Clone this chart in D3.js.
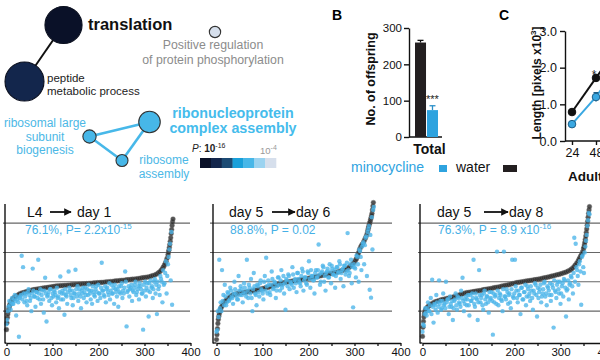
<!DOCTYPE html>
<html><head><meta charset="utf-8">
<script src="https://cdn.jsdelivr.net/npm/d3@7"></script>
<style>body{margin:0;background:#fff}svg{display:block;font-family:"Liberation Sans",Arial,sans-serif}</style>
</head><body><svg id="c" width="600" height="360"></svg>
<script>
// ---------------- DATA ----------------
// A: GO network
const pBinColors = ["#0a1128","#13264c","#1c4b74","#19a0da","#47b7e8","#9bd3f0","#d6dfec"];
const pLegendLabels = ["10", "-16", "10", "-4"];
const nodeIds = ["translation","peptide","posreg","rnp","rlsb","rasm"];
const nodeLabels = [["translation"],["peptide","metabolic process"],["Positive regulation","of protein phosphorylation"],["ribonucleoprotein","complex assembly"],["ribosomal large","subunit","biogenesis"],["ribosome","assembly"]];
const nodeBins = [0,1,6,4,4,4];
const nodeCounts = [86,95,8,29,11,9];
const edges = [["translation","peptide"],["rnp","rlsb"],["rnp","rasm"],["rlsb","rasm"]];
// B: offspring
const offCats = ["Total"];
const offSeries = ["water","minocycline"];
const offMean = [260,74];
const offErr = [6,12];
const offTicks = [0,100,200,300];
const offSig = "***";
// C: length
const lenHours = [24,48,72];
const lenWater = [0.79,1.72,2.65];
const lenWaterErr = [0.04,0.08,0.1];
const lenMino = [0.46,1.2,2.15];
const lenMinoErr = [0.04,0.12,0.1];
const lenTicksY = [0,1,2,3];
const lenTicksX = [24,48];
// D: rank plots  [rank, value] for black (reference); blue values every BLUE_STEP ranks (two interleaved sets)
const scatterTicks = [0,50,100,150,200,250,300,350,400];
const scatterGrid = [1,2,3,4];
const BLUE_STEP = 3;
const titles = [["L4","day 1"],["day 5","day 6"],["day 5","day 8"]];
const subs = [["76.1%, P= 2.2x10","-15"],["88.8%, P = 0.02",""],["76.3%, P = 8.9 x10","-16"]];
const black1 = [[0,0.37],[1,0.6],[2,0.78],[3,0.9],[4,1.0],[5,1.08],[6,1.15],[7,1.2],[8,1.25],[10,1.33],[12,1.38],[14,1.42],[16,1.45],[18,1.48],[21,1.51],[24,1.54],[27,1.57],[30,1.6],[34,1.62],[38,1.64],[42,1.66],[46,1.68],[50,1.7],[54,1.71],[58,1.73],[62,1.74],[66,1.75],[70,1.76],[74,1.77],[78,1.78],[82,1.79],[86,1.8],[90,1.81],[94,1.82],[98,1.83],[102,1.84],[106,1.85],[110,1.86],[114,1.86],[118,1.87],[122,1.87],[126,1.88],[130,1.88],[134,1.89],[138,1.89],[142,1.9],[146,1.9],[150,1.91],[154,1.91],[158,1.92],[162,1.92],[166,1.93],[170,1.93],[174,1.94],[178,1.94],[182,1.95],[186,1.95],[190,1.96],[194,1.96],[198,1.97],[202,1.97],[206,1.98],[210,1.98],[214,1.99],[218,2.0],[222,2.0],[226,2.01],[230,2.01],[234,2.02],[238,2.03],[242,2.03],[246,2.04],[250,2.05],[254,2.05],[258,2.06],[262,2.07],[266,2.07],[270,2.08],[274,2.09],[278,2.09],[282,2.1],[286,2.11],[290,2.12],[294,2.13],[298,2.14],[302,2.15],[306,2.16],[310,2.17],[314,2.19],[318,2.21],[322,2.23],[326,2.26],[330,2.3],[333,2.34],[336,2.39],[339,2.45],[341,2.5],[343,2.56],[345,2.62],[347,2.7],[349,2.8],[351,2.92],[352,3.0],[353,3.08],[354,3.17],[355,3.27],[356,3.38],[357,3.5],[358,3.64],[359,3.78],[360,3.92],[361,4.04],[362,4.14]];
const black2 = [[0,0.03],[1,0.2],[2,0.4],[3,0.58],[4,0.72],[5,0.82],[6,0.9],[7,0.97],[8,1.03],[9,1.08],[10,1.12],[12,1.18],[14,1.23],[16,1.28],[18,1.32],[20,1.36],[23,1.4],[26,1.44],[29,1.48],[32,1.52],[36,1.55],[40,1.57],[44,1.59],[48,1.61],[52,1.62],[56,1.63],[60,1.64],[64,1.65],[68,1.66],[72,1.67],[76,1.68],[80,1.69],[84,1.71],[88,1.72],[92,1.74],[96,1.75],[100,1.77],[104,1.78],[108,1.8],[112,1.81],[116,1.83],[120,1.85],[124,1.87],[128,1.89],[132,1.91],[136,1.93],[140,1.94],[144,1.96],[148,1.97],[152,1.99],[156,2.0],[160,2.01],[164,2.02],[168,2.03],[172,2.04],[176,2.05],[180,2.06],[184,2.07],[188,2.08],[192,2.1],[196,2.11],[200,2.12],[204,2.13],[208,2.15],[212,2.16],[216,2.17],[220,2.18],[224,2.2],[228,2.21],[232,2.23],[236,2.24],[240,2.25],[244,2.27],[248,2.28],[252,2.29],[256,2.31],[260,2.32],[264,2.34],[268,2.36],[272,2.38],[276,2.4],[280,2.42],[284,2.45],[288,2.49],[291,2.53],[294,2.57],[297,2.62],[300,2.68],[302,2.73],[304,2.78],[306,2.84],[307,2.9],[308,2.96],[310,3.03],[311,3.1],[313,3.17],[315,3.23],[317,3.28],[320,3.36],[322,3.43],[324,3.5],[326,3.58],[328,3.67],[329,3.75],[330,3.82],[331,3.88],[332,3.95],[333,4.0],[334,4.05],[335,4.12],[336,4.18],[337,4.25],[338,4.33],[339,4.45],[340,4.58],[341,4.7]];
const black3 = [[0,0.14],[1,0.45],[2,0.65],[3,0.8],[4,0.9],[5,0.97],[6,1.02],[7,1.05],[8,1.08],[10,1.12],[12,1.15],[14,1.18],[16,1.21],[18,1.23],[20,1.25],[24,1.29],[28,1.32],[32,1.34],[36,1.36],[40,1.38],[44,1.4],[48,1.41],[52,1.43],[56,1.44],[60,1.46],[64,1.47],[68,1.49],[72,1.51],[76,1.53],[80,1.55],[84,1.57],[88,1.59],[92,1.61],[96,1.63],[100,1.64],[104,1.65],[108,1.66],[112,1.67],[116,1.68],[120,1.69],[124,1.7],[128,1.71],[132,1.73],[136,1.74],[140,1.75],[144,1.76],[148,1.77],[152,1.78],[156,1.8],[160,1.81],[164,1.82],[168,1.83],[172,1.85],[176,1.86],[180,1.88],[184,1.89],[188,1.9],[192,1.92],[196,1.94],[200,1.95],[204,1.97],[208,1.98],[212,1.99],[216,2.0],[220,2.01],[224,2.02],[228,2.03],[232,2.04],[236,2.05],[240,2.06],[244,2.07],[248,2.08],[252,2.09],[256,2.1],[260,2.12],[264,2.13],[268,2.14],[272,2.16],[276,2.17],[280,2.19],[284,2.2],[288,2.22],[292,2.24],[296,2.25],[300,2.27],[304,2.29],[308,2.31],[312,2.33],[316,2.36],[320,2.39],[323,2.42],[326,2.46],[329,2.51],[332,2.57],[335,2.63],[338,2.7],[340,2.76],[342,2.82],[344,2.88],[346,2.94],[348,3.02],[350,3.12],[351,3.18],[352,3.26],[353,3.35],[354,3.45],[355,3.56],[356,3.68],[357,3.8],[358,3.93],[359,4.06],[360,4.2],[361,4.33],[362,4.45],[363,4.56]];
const blue1 = [0.55,1.0,1.35,1.05,1.45,1.25,1.55,0.85,1.4,0.13,1.5,2.89,2.5,1.3,1.6,1.2,1.75,1.35,1.0,2.45,1.5,1.15,1.65,2.75,1.4,1.25,1.7,0.95,2.14,0.65,1.55,1.35,1.75,1.2,1.5,1.65,1.3,1.45,1.1,2.18,1.6,1.4,0.88,1.55,1.25,2.35,1.7,1.45,1.2,1.6,2.41,1.5,1.35,1.75,1.1,1.6,1.45,1.8,1.3,1.55,1.7,1.4,1.25,1.65,1.5,1.85,1.35,1.6,1.45,2.65,1.7,1.5,1.3,1.8,1.55,1.4,1.9,1.6,1.25,1.75,1.5,1.15,1.65,1.85,1.45,1.6,2.35,0.48,1.7,1.5,1.8,1.35,1.65,1.9,1.55,1.75,1.4,1.85,1.6,0.37,1.7,1.5,1.95,0.82,1.65,1.8,1.45,2.0,1.6,0.9,1.75,1.55,2.1,1.3,1.9,2.3,1.6,2.6,3.1,2.05,1.22];
const blue1b = [0.7,1.15,1.2,1.3,1.25,1.4,1.35,1.5,1.3,1.45,1.55,1.4,1.6,1.5,1.35,1.65,1.55,1.45,1.6,1.7,1.5,1.65,1.45,1.6,1.75,1.55,1.4,1.7,1.6,1.5,1.65,1.75,1.45,1.6,1.7,1.55,1.8,1.5,1.65,1.4,1.7,1.6,1.75,1.5,1.65,1.8,1.55,1.7,1.45,1.6,1.75,1.85,1.6,1.5,1.7,1.8,1.65,1.55,1.75,1.9,1.6,1.7,1.85,1.55,1.75,1.65,1.9,1.6,1.8,1.7,1.55,1.85,1.75,1.65,1.95,1.7,1.6,1.8,1.9,1.65,1.75,1.85,1.6,1.95,1.7,1.8,2.0,1.65,1.85,1.75,1.9,1.7,1.8,2.0,1.65,1.85,1.95,1.75,1.6,1.9,2.0,1.8,1.7,1.95,2.05,1.85,1.75,2.1,1.9,2.0,1.85,2.2,2.0,2.4,1.95,2.7,2.2,2.85,3.3,3.7];
const blue2 = [0.3,1.0,2.75,1.3,2.4,1.55,1.9,1.2,1.65,1.35,1.8,1.5,1.25,2.0,1.6,1.4,2.2,1.55,1.75,1.3,1.95,1.6,2.75,1.45,1.8,2.1,1.0,2.3,1.6,1.2,1.85,1.5,2.05,1.7,1.4,2.2,2.82,1.6,1.9,1.55,2.35,1.75,2.0,1.45,1.85,2.15,1.7,2.4,1.9,1.6,1.05,2.05,2.25,1.75,1.95,2.5,1.8,2.1,1.65,2.3,2.0,1.85,2.45,1.7,2.15,1.95,2.35,2.7,1.8,2.2,2.05,1.6,2.4,2.15,3.27,1.9,2.3,2.55,2.0,1.7,2.35,2.15,2.6,1.95,2.45,2.25,1.8,2.5,2.3,2.7,2.1,2.4,1.85,2.55,2.35,3.66,2.2,2.6,1.95,1.13,2.5,2.15,2.85,2.0,3.05,2.4,3.3,2.6,3.5,2.2,3.8,1.73,1.46,3.1,4.55];
const blue2b = [0.35,0.8,1.1,1.0,1.35,1.2,1.5,1.3,1.6,1.4,1.7,1.45,1.6,1.75,1.5,1.4,1.7,1.85,1.55,1.65,1.8,1.5,1.7,1.9,1.6,1.45,1.75,1.85,1.55,1.9,1.65,1.95,1.75,1.6,2.0,1.7,1.85,2.05,1.65,1.9,2.1,1.8,1.95,1.7,2.15,1.9,2.05,1.8,2.2,1.95,2.1,1.85,2.2,2.0,1.9,2.25,2.05,1.95,2.3,2.1,1.95,2.2,2.35,2.05,2.15,1.9,2.3,2.1,2.4,2.2,2.05,2.3,2.15,2.4,2.25,2.0,2.35,2.5,2.2,2.3,2.45,2.15,2.35,2.55,2.25,2.4,2.2,2.5,2.35,2.6,2.3,2.45,2.55,2.25,2.65,2.4,2.3,2.75,2.5,2.6,2.45,2.9,2.6,3.1,2.85,3.2,3.35,3.25,3.55,3.7,3.9,3.6,4.2,4.45];
const blue3 = [0.3,0.5,1.1,0.85,1.3,1.0,1.45,2.07,0.61,1.2,1.55,0.95,2.05,1.35,1.1,1.6,1.25,2.0,1.4,0.9,1.5,1.15,0.7,1.35,1.6,1.05,1.45,1.25,1.7,2.14,1.0,1.4,1.2,1.55,0.85,1.35,1.6,2.75,1.15,1.45,0.7,2.4,1.3,1.55,1.05,1.7,1.25,1.5,0.95,1.4,1.65,0.2,1.3,1.55,3.03,1.2,1.6,1.4,1.0,3.03,1.5,1.75,1.25,1.6,1.1,2.75,1.45,2.75,1.7,1.3,1.55,0.9,1.8,1.4,1.65,1.2,1.85,1.5,1.35,1.7,1.05,1.6,1.9,0.82,1.45,1.75,1.3,1.6,1.95,1.5,1.2,1.8,1.55,1.35,1.9,0.44,1.7,1.45,2.0,1.6,1.25,1.85,1.5,2.05,0.82,1.75,1.4,1.95,2.15,1.6,3.5,3.3,2.4,1.9,2.7,1.22,2.9,2.3,3.2,3.6,4.1,4.3];
const blue3b = [0.55,0.9,0.95,1.1,1.0,1.2,0.9,1.15,1.25,1.05,1.3,1.15,1.25,1.05,1.35,1.2,1.1,1.3,1.4,1.15,1.25,1.35,1.1,1.4,1.2,1.5,1.3,1.15,1.45,1.35,1.25,1.5,1.4,1.2,1.55,1.35,1.45,1.25,1.6,1.4,1.3,1.55,1.45,1.2,1.6,1.4,1.5,1.3,1.65,1.45,1.35,1.6,1.5,1.25,1.7,1.45,1.55,1.35,1.75,1.5,1.4,1.65,1.55,1.3,1.75,1.5,1.6,1.85,1.45,1.7,1.55,1.8,1.4,1.65,1.9,1.5,1.75,1.6,1.85,1.45,1.7,1.95,1.55,1.8,1.65,1.9,1.5,1.75,2.0,1.6,1.85,1.7,1.95,1.55,1.8,2.05,1.65,1.9,1.75,2.0,1.6,1.95,2.1,1.8,1.7,2.05,1.9,2.2,1.85,2.3,2.0,2.5,2.2,2.6,2.35,2.85,2.5,3.0,3.4,3.9,4.35];

// ---------------- LAYOUT ----------------
const svg = d3.select("#c");
svg.append("rect").attr("width",600).attr("height",360).attr("fill","#fff");
const BLUE = "#2ea3df", LBLUE = "#47b8e9", BLK = "#231f20";

// ===== A: network =====
const nodePos = {translation:[63.5,25],peptide:[24.5,81.5],posreg:[215,32],rnp:[149.5,122],rlsb:[89.5,136.5],rasm:[122,160.5]};
const labelCfg = [
  {x:88,y:30,lh:0,size:16.5,w:"bold",fill:"#111",a:"start"},
  {x:47,y:82,lh:12.5,size:11.5,w:"normal",fill:"#222",a:"start"},
  {x:213,y:49,lh:15,size:12.3,w:"normal",fill:"#8c8c8c",a:"middle"},
  {x:233,y:118,lh:15,size:14.3,w:"bold",fill:"#45bcec",a:"middle"},
  {x:45,y:127,lh:13.5,size:12,w:"normal",fill:"#4cb8e6",a:"middle"},
  {x:164,y:164,lh:13.5,size:12,w:"normal",fill:"#4cb8e6",a:"middle"}
];
const rScale = d3.scaleSqrt().domain([0,d3.max(nodeCounts)]).range([0,19.5]);
const gA = svg.append("g");
gA.selectAll("line.e").data(edges).join("line")
  .attr("x1",d=>nodePos[d[0]][0]).attr("y1",d=>nodePos[d[0]][1])
  .attr("x2",d=>nodePos[d[1]][0]).attr("y2",d=>nodePos[d[1]][1])
  .attr("stroke",d=>d[0]==="translation"?"#111":LBLUE).attr("stroke-width",d=>d[0]==="translation"?2:2.6);
nodeIds.forEach((id,i)=>{
  gA.append("circle").attr("cx",nodePos[id][0]).attr("cy",nodePos[id][1]).attr("r",rScale(nodeCounts[i]))
    .attr("fill",pBinColors[nodeBins[i]]).attr("stroke",i<2?"#0a0f1e":"#333").attr("stroke-width",1.1);
  const c = labelCfg[i];
  const t = gA.append("text").attr("x",c.x).attr("y",c.y).attr("font-size",c.size).attr("font-weight",c.w)
    .attr("fill",c.fill).attr("text-anchor",c.a);
  nodeLabels[i].forEach((l,j)=>t.append("tspan").attr("x",c.x).attr("dy",j?c.lh:0).text(l));
});
// P legend
const lt = gA.append("text").attr("x",192).attr("y",152).attr("font-size",10).attr("fill","#222");
lt.append("tspan").attr("font-style","italic").text("P");
lt.append("tspan").text(": ");
lt.append("tspan").attr("font-weight","bold").text(pLegendLabels[0]);
lt.append("tspan").attr("font-size",7).attr("dy",-4).text(pLegendLabels[1]);
const lt2 = gA.append("text").attr("x",260).attr("y",154).attr("font-size",9.5).attr("fill","#999");
lt2.append("tspan").text(pLegendLabels[2]);
lt2.append("tspan").attr("font-size",7).attr("dy",-4).text(pLegendLabels[3]);
const cb = d3.scaleBand().domain(d3.range(pBinColors.length)).range([200,276]);
gA.selectAll("rect.cb").data(pBinColors).join("rect").attr("x",(d,i)=>cb(i)).attr("y",158)
  .attr("width",cb.bandwidth()+0.3).attr("height",10).attr("fill",d=>d);

// ===== B: offspring bars =====
const gB = svg.append("g");
gB.append("text").attr("x",332).attr("y",20).attr("font-size",14).attr("font-weight","bold").text("B");
const yB = d3.scaleLinear().domain([0,300]).range([137,28]);
const x0 = d3.scaleBand().domain(offCats).range([415,438]);
const x1 = d3.scaleBand().domain(offSeries).range([0,x0.bandwidth()]).paddingInner(0.08);
const colB = d3.scaleOrdinal().domain(offSeries).range([BLK,BLUE]);
const ayB = gB.append("g").attr("transform","translate(409,0)")
  .call(d3.axisLeft(yB).tickValues(offTicks).tickSize(5).tickSizeOuter(0).tickPadding(2));
ayB.selectAll("text").attr("font-size",11.5).attr("fill","#111").attr("font-family","Liberation Sans, Arial");
ayB.selectAll("line,path").attr("stroke","#111").attr("stroke-width",1.4);
gB.append("line").attr("x1",409).attr("x2",442).attr("y1",yB(0)).attr("y2",yB(0)).attr("stroke","#111").attr("stroke-width",1.4);
offSeries.forEach((s,i)=>{
  const bx = x0("Total")+x1(s), bw = x1.bandwidth(), cx = bx+bw/2;
  gB.append("line").attr("x1",cx).attr("x2",cx).attr("y1",yB(offMean[i])).attr("y2",yB(offMean[i]+offErr[i]))
    .attr("stroke",i?"#2a8fc8":"#111").attr("stroke-width",1.3);
  gB.append("line").attr("x1",cx-3).attr("x2",cx+3).attr("y1",yB(offMean[i]+offErr[i])).attr("y2",yB(offMean[i]+offErr[i]))
    .attr("stroke",i?"#2a8fc8":"#111").attr("stroke-width",1.3);
  gB.append("rect").attr("x",bx).attr("y",yB(offMean[i])).attr("width",bw).attr("height",yB(0)-yB(offMean[i])).attr("fill",colB(s));
});
gB.append("text").attr("x",x0("Total")+x1("minocycline")+x1.bandwidth()/2).attr("y",yB(offMean[1]+offErr[1])-3)
  .attr("text-anchor","middle").attr("font-size",11).attr("fill","#222").text(offSig);
gB.append("text").attr("x",x0("Total")+x0.bandwidth()/2+3).attr("y",154).attr("text-anchor","middle")
  .attr("font-size",14).attr("font-weight","bold").attr("fill","#111").text(offCats[0]);
gB.append("text").attr("transform","translate(375,79) rotate(-90)").attr("text-anchor","middle")
  .attr("font-size",12.5).attr("font-weight","bold").attr("fill","#111").text("No. of offspring");
// legend
gB.append("text").attr("x",351).attr("y",172).attr("font-size",14).attr("fill",BLUE).text(offSeries[1]);
gB.append("rect").attr("x",439).attr("y",165).attr("width",8).attr("height",7).attr("fill",BLUE);
gB.append("text").attr("x",456).attr("y",172).attr("font-size",14).attr("fill","#111").text(offSeries[0]);
gB.append("rect").attr("x",503).attr("y",165).attr("width",14).attr("height",7).attr("fill",BLK);

// ===== C: length =====
const gC = svg.append("g");
gC.append("text").attr("x",499).attr("y",20).attr("font-size",14).attr("font-weight","bold").text("C");
const xC = d3.scaleLinear().domain([24,48]).range([572,596]);
const yC = d3.scaleLinear().domain([0,3]).range([141,31]);
const ayC = gC.append("g").attr("transform","translate(565,0)")
  .call(d3.axisLeft(yC).tickValues(lenTicksY).tickSize(5).tickSizeOuter(0).tickPadding(3));
const axC = gC.append("g").attr("transform","translate(0,141)")
  .call(d3.axisBottom(xC).tickValues(lenTicksX).tickSize(4).tickSizeOuter(0).tickPadding(3));
axC.select("path").remove();
gC.append("line").attr("x1",565).attr("x2",640).attr("y1",141).attr("y2",141).attr("stroke","#111").attr("stroke-width",1.4);
[ayC,axC].forEach(a=>{a.selectAll("text").attr("font-size",12.5).attr("fill","#111").attr("font-family","Liberation Sans, Arial");
  a.selectAll("line,path").attr("stroke","#111").attr("stroke-width",1.4);});
const lineC = d3.line().x((d,i)=>xC(lenHours[i])).y(d=>yC(d));
[[lenWater,lenWaterErr,"#111","#111"],[lenMino,lenMinoErr,"#3aa8e2","#1d5f88"]].forEach(([v,e,c,s])=>{
  gC.append("path").attr("d",lineC(v)).attr("fill","none").attr("stroke",c).attr("stroke-width",2);
  v.forEach((d,i)=>{
    gC.append("line").attr("x1",xC(lenHours[i])).attr("x2",xC(lenHours[i])).attr("y1",yC(d-e[i])).attr("y2",yC(d+e[i])).attr("stroke",s).attr("stroke-width",1.2);
    gC.append("line").attr("x1",xC(lenHours[i])-2.5).attr("x2",xC(lenHours[i])+2.5).attr("y1",yC(d+e[i])).attr("y2",yC(d+e[i])).attr("stroke",s).attr("stroke-width",1.2);
    gC.append("circle").attr("cx",xC(lenHours[i])).attr("cy",yC(d)).attr("r",3.8).attr("fill",c).attr("stroke",s).attr("stroke-width",1);
  });
});
gC.append("text").attr("x",xC(48)-2).attr("y",yC(lenWater[1]+lenWaterErr[1])+4).attr("text-anchor","middle").attr("font-size",12).attr("fill","#222").text("*");
const ylC = gC.append("text").attr("transform","translate(541,83) rotate(-90)").attr("text-anchor","middle")
  .attr("font-size",12).attr("font-weight","bold").attr("fill","#111");
ylC.append("tspan").text("Length [pixels x10");
ylC.append("tspan").attr("font-size",8).attr("dy",-5).text("3");
ylC.append("tspan").attr("dy",5).text("]");
gC.append("text").attr("x",568).attr("y",181).attr("font-size",13.5).attr("font-weight","bold").attr("fill","#111").text("Adult");

// ===== D: rank scatter plots =====
const panels = [
  {axisX:5,x0:6.5,gridL:3,gridR:190,tx:[27,50,71,77],sx:25},
  {axisX:213,x0:216.5,gridL:210,gridR:392,tx:[229,272,295,296],sx:230},
  {axisX:420,x0:422.5,gridL:418,gridR:600,tx:[437,484,508,509],sx:438}
];
const yD = d3.scaleLinear().domain([0,5]).range([340.5,193.8]);
const blacks = [black1,black2,black3], blues = [blue1,blue2,blue3], bluesB = [blue1b,blue2b,blue3b];
svg.append("defs").append("marker").attr("id","ah").attr("viewBox","0 0 10 10").attr("refX",9).attr("refY",5)
  .attr("markerWidth",4.2).attr("markerHeight",4.2).attr("orient","auto")
  .append("path").attr("d","M0,0L10,5L0,10z").attr("fill","#111");
panels.forEach((p,k)=>{
  const g = svg.append("g");
  const x = d3.scaleLinear().domain([0,400]).range([p.x0,p.x0+184]);
  g.selectAll("line.grid").data(scatterGrid).join("line").attr("x1",p.gridL).attr("x2",p.gridR)
    .attr("y1",d=>yD(d)).attr("y2",d=>yD(d)).attr("stroke","#666").attr("stroke-width",1.1);
  g.selectAll("circle.b").data(blacks[k]).join("circle").attr("cx",d=>x(d[0])).attr("cy",d=>yD(d[1])).attr("r",2.4)
    .attr("fill","#2b2b2b").attr("fill-opacity",0.8).attr("stroke","#777").attr("stroke-width",0.4);
  g.selectAll("circle.u").data(blues[k]).join("circle").attr("cx",(d,i)=>x(i*BLUE_STEP)).attr("cy",d=>yD(d)).attr("r",2.2)
    .attr("fill","#4cb5e9").attr("fill-opacity",0.78);
  g.selectAll("circle.v").data(bluesB[k]).join("circle").attr("cx",(d,i)=>x(i*BLUE_STEP+1.5)).attr("cy",d=>yD(d)).attr("r",2.2)
    .attr("fill","#4cb5e9").attr("fill-opacity",0.78);
  const ax = g.append("g").attr("transform","translate(0,343)")
    .call(d3.axisBottom(x).tickValues(scatterTicks).tickSize(3).tickSizeOuter(0).tickPadding(2).tickFormat(d=>d%100===0?d:""));
  ax.selectAll("text").attr("font-size",11.5).attr("fill","#111").attr("font-family","Liberation Sans, Arial");
  ax.selectAll("line,path").attr("stroke","#111").attr("stroke-width",1.3);
  g.append("line").attr("x1",p.axisX).attr("x2",p.x0).attr("y1",343).attr("y2",343).attr("stroke","#111").attr("stroke-width",1.3);
  g.append("line").attr("x1",p.axisX).attr("x2",p.axisX).attr("y1",204).attr("y2",343.6).attr("stroke","#111").attr("stroke-width",1.4);
  // title
  g.append("text").attr("x",p.tx[0]).attr("y",217).attr("font-size",14).attr("fill","#111").text(titles[k][0]);
  g.append("line").attr("x1",p.tx[1]).attr("x2",p.tx[2]).attr("y1",212).attr("y2",212).attr("stroke","#111").attr("stroke-width",1.8).attr("marker-end","url(#ah)");
  g.append("text").attr("x",p.tx[3]).attr("y",217).attr("font-size",14).attr("fill","#111").text(titles[k][1]);
  const st = g.append("text").attr("x",p.sx).attr("y",234).attr("font-size",12).attr("fill","#45b0e6");
  st.append("tspan").text(subs[k][0]);
  if (subs[k][1]) st.append("tspan").attr("font-size",8).attr("dy",-5).text(subs[k][1]);
});
</script></body></html>
